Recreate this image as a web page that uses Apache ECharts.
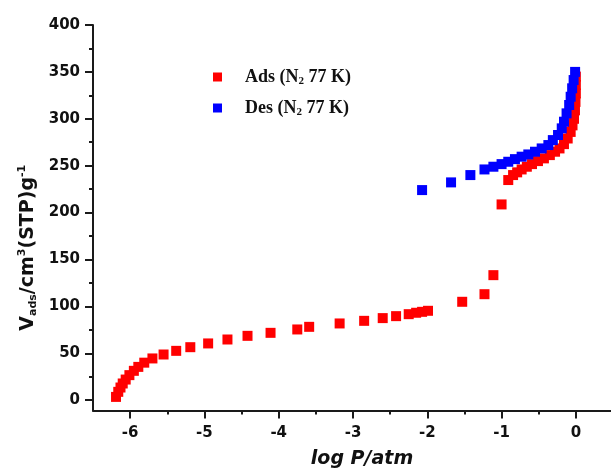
<!DOCTYPE html>
<html>
<head>
<meta charset="utf-8">
<script src="https://cdn.jsdelivr.net/npm/echarts@6/dist/echarts.min.js"></script>
<style>
  html, body { margin: 0; padding: 0; background: #fff; }
  #chart { width: 611px; height: 473px; }
</style>
</head>
<body>
<div id="chart"></div>
<script>
// N2 isotherm at 77 K: adsorption and desorption branches
const adsLogP = [-6.19, -6.16, -6.13, -6.10, -6.06, -6.01, -5.95, -5.89, -5.81, -5.70,
  -5.55, -5.38, -5.19, -4.95, -4.69, -4.42, -4.11, -3.75, -3.59, -3.18,
  -2.85, -2.60, -2.42, -2.25, -2.15, -2.07, -1.99, -1.53, -1.23, -1.11,
  -1.00, -0.91, -0.845, -0.79, -0.73, -0.66, -0.59, -0.51, -0.43, -0.35,
  -0.28, -0.22, -0.16, -0.11, -0.07, -0.045, -0.025, -0.012, -0.005, 0.0, 0.0, 0.0];
const adsV = [3.5, 8.9, 13.5, 17.8, 22, 26.7, 31.3, 35.5, 40, 44.5,
  48.7, 52.6, 56.5, 60.5, 64.7, 68.6, 71.8, 75.4, 78.2, 81.8,
  84.6, 87.5, 89.6, 91.7, 93.2, 94.2, 95.3, 104.9, 113, 133.3,
  208.7, 234.7, 240, 242.9, 246, 248.9, 251.7, 254.9, 257.8, 261.3,
  264.9, 268.4, 273, 279, 286, 293, 300, 309, 318, 327, 336, 345];

const desLogP = [-2.07, -1.68, -1.42, -1.23, -1.11, -1.00, -0.91, -0.82, -0.73, -0.64,
  -0.55, -0.46, -0.37, -0.31, -0.24, -0.19, -0.16, -0.125, -0.09, -0.07,
  -0.05, -0.03, -0.01];
const desV = [224, 232.2, 240, 246, 248.9, 251.7, 254.2, 257, 259.6, 262,
  264.9, 268.4, 272, 277.3, 282.7, 289.8, 296.9, 305.8, 314.7, 323.5,
  332.5, 341.3, 350];

// tick label ranges (labelled span of each axis) and steps
const xTickMin = -6, xTickMax = 0, xTickStep = 1;
const yTickMin = 0, yTickMax = 400, yTickStep = 50;

const seriesNames = ['Ads', 'Des'];
const legendLabels = {
  Ads: '{b|Ads (N}{s|2}{b| 77 K)}',
  Des: '{b|Des (N}{s|2}{b| 77 K)}'
};

const zip = (xs, ys) => xs.map((x, i) => [x, ys[i]]);

const axisColor = '#1a1a1a';
const labelFont = { fontFamily: 'DejaVu Sans', fontWeight: 'bold', fontSize: 15, color: '#111' };

// full plotted extent: the axis lines span a little beyond the labelled range
const X_MIN = -6.5, X_MAX = 0.5, Y_MIN = -11, Y_MAX = 400;

// plot box in pixels
const W = 611, H = 473;
const box = { left: 93, right: W + 2, top: 25, bottom: 410.5 };
const xPx = v => box.left + (v - X_MIN) / (X_MAX - X_MIN) * (box.right - box.left);
const yPx = v => box.bottom - (v - Y_MIN) / (Y_MAX - Y_MIN) * (box.bottom - box.top);

const hidden = { show: false };
const tickStyle = { color: axisColor, width: 2 };

const chart = echarts.init(document.getElementById('chart'), null, { renderer: 'canvas' });

chart.setOption({
  animation: false,
  backgroundColor: '#fff',
  grid: [
    // main plot
    { left: box.left, top: box.top, right: W - box.right, bottom: H - box.bottom, outerBoundsMode: 'none' },
    // labelled x span (ticks + labels), same pixel scale as the main plot
    { left: xPx(xTickMin), right: W - xPx(xTickMax), top: box.top, bottom: H - box.bottom, outerBoundsMode: 'none' },
    // labelled y span (ticks + labels), same pixel scale as the main plot
    { left: box.left, right: W - box.right, top: yPx(yTickMax), bottom: H - yPx(yTickMin), outerBoundsMode: 'none' }
  ],
  legend: {
    orient: 'vertical',
    left: 213,
    top: 68,
    padding: 0,
    itemWidth: 9,
    itemHeight: 9,
    itemGap: 12,
    icon: 'rect',
    data: seriesNames,
    formatter: name => legendLabels[name],
    textStyle: {
      padding: [0, 0, 0, 18],
      rich: {
        b: { fontFamily: 'Liberation Serif', fontWeight: 'bold', fontSize: 18, color: '#111' },
        s: { fontFamily: 'Liberation Serif', fontWeight: 'bold', fontSize: 11, color: '#111', padding: [9, 0, 0, 0] }
      }
    }
  },
  xAxis: [
    {
      gridIndex: 0, type: 'value', min: X_MIN, max: X_MAX, position: 'bottom',
      name: 'log P/atm',
      nameLocation: 'middle',
      nameGap: 39,
      nameTextStyle: { fontFamily: 'DejaVu Sans', fontWeight: 'bold', fontStyle: 'italic', fontSize: 19, color: '#111', padding: [0, 0, 0, 18] },
      axisLine: { show: true, onZero: false, lineStyle: { color: axisColor, width: 2 } },
      axisTick: hidden, axisLabel: hidden, splitLine: hidden
    },
    {
      gridIndex: 1, type: 'value', min: xTickMin, max: xTickMax, interval: xTickStep, position: 'bottom',
      axisLine: { show: false, onZero: false },
      axisTick: { show: true, length: 8, lineStyle: tickStyle },
      minorTick: { show: true, splitNumber: 2, length: 4, lineStyle: tickStyle },
      axisLabel: { show: true, margin: 15, ...labelFont },
      splitLine: hidden
    },
    {
      gridIndex: 2, type: 'value', min: X_MIN, max: X_MAX, position: 'bottom',
      axisLine: { show: false, onZero: false }, axisTick: hidden, axisLabel: hidden, splitLine: hidden
    }
  ],
  yAxis: [
    {
      gridIndex: 0, type: 'value', min: Y_MIN, max: Y_MAX, position: 'left',
      name: '{b|V}{sub|ads}{b|/cm}{sup|3}{b|(STP)g}{sup|-1}',
      nameLocation: 'middle',
      nameGap: 54,
      nameRotate: 90,
      nameTextStyle: {
        padding: [0, 60, 0, 0],
        rich: {
          b: { fontFamily: 'DejaVu Sans', fontWeight: 'bold', fontSize: 19, color: '#111' },
          sub: { fontFamily: 'DejaVu Sans', fontWeight: 'bold', fontSize: 11, color: '#111', padding: [11, 0, 0, 0] },
          sup: { fontFamily: 'DejaVu Sans', fontWeight: 'bold', fontSize: 11, color: '#111', padding: [0, 0, 11, 0] }
        }
      },
      axisLine: { show: true, onZero: false, lineStyle: { color: axisColor, width: 2 } },
      axisTick: hidden, axisLabel: hidden, splitLine: hidden
    },
    {
      gridIndex: 1, type: 'value', min: Y_MIN, max: Y_MAX, position: 'left',
      axisLine: { show: false, onZero: false }, axisTick: hidden, axisLabel: hidden, splitLine: hidden
    },
    {
      gridIndex: 2, type: 'value', min: yTickMin, max: yTickMax, interval: yTickStep, position: 'left',
      axisLine: { show: false, onZero: false },
      axisTick: { show: true, length: 8, lineStyle: tickStyle },
      minorTick: { show: true, splitNumber: 2, length: 4, lineStyle: tickStyle },
      axisLabel: { show: true, margin: 13, ...labelFont },
      splitLine: hidden
    }
  ],
  series: [
    {
      name: 'Ads', type: 'scatter', xAxisIndex: 0, yAxisIndex: 0,
      symbol: 'rect', symbolSize: 10,
      itemStyle: { color: '#ff0000', opacity: 1 },
      data: zip(adsLogP, adsV)
    },
    {
      name: 'Des', type: 'scatter', xAxisIndex: 0, yAxisIndex: 0,
      symbol: 'rect', symbolSize: 10,
      itemStyle: { color: '#0000ff', opacity: 1 },
      data: zip(desLogP, desV)
    }
  ]
});
</script>
</body>
</html>
